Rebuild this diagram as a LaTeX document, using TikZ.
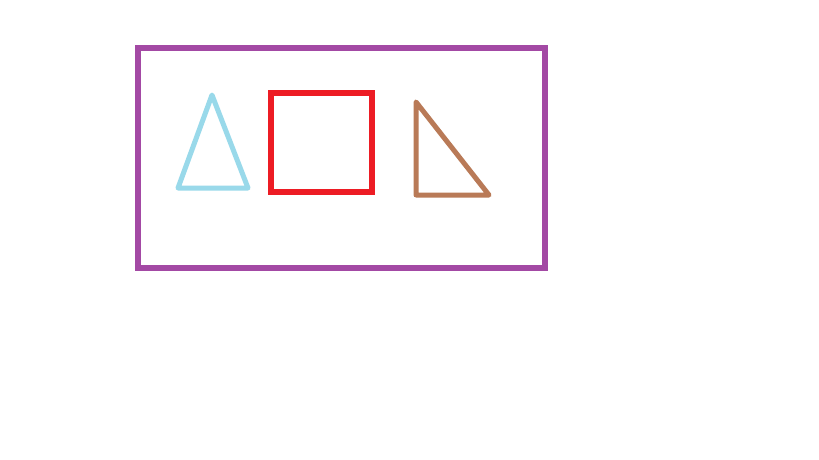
\documentclass[tikz,border=0pt]{standalone}
\definecolor{ppurple}{HTML}{A349A4}
\definecolor{pblue}{HTML}{99D9EA}
\definecolor{pred}{HTML}{ED1C24}
\definecolor{pbrown}{HTML}{B97A57}
\begin{document}
\begin{tikzpicture}[x=1pt,y=-1pt,
  triline/.style={line width=5pt,line join=round,line cap=round}]
\useasboundingbox (0,0) rectangle (819,460);
\fill[white] (0,0) rectangle (819,460);
\draw[line width=6pt,ppurple] (138,48) rectangle (545,268);
\draw[triline,pblue] (212,95) -- (248,188) -- (178,188) -- cycle;
\draw[line width=6pt,pred] (271,93) rectangle (372,192);
\draw[triline,pbrown] (416,102) -- (489,195) -- (416,195) -- cycle;
\end{tikzpicture}
\end{document}
